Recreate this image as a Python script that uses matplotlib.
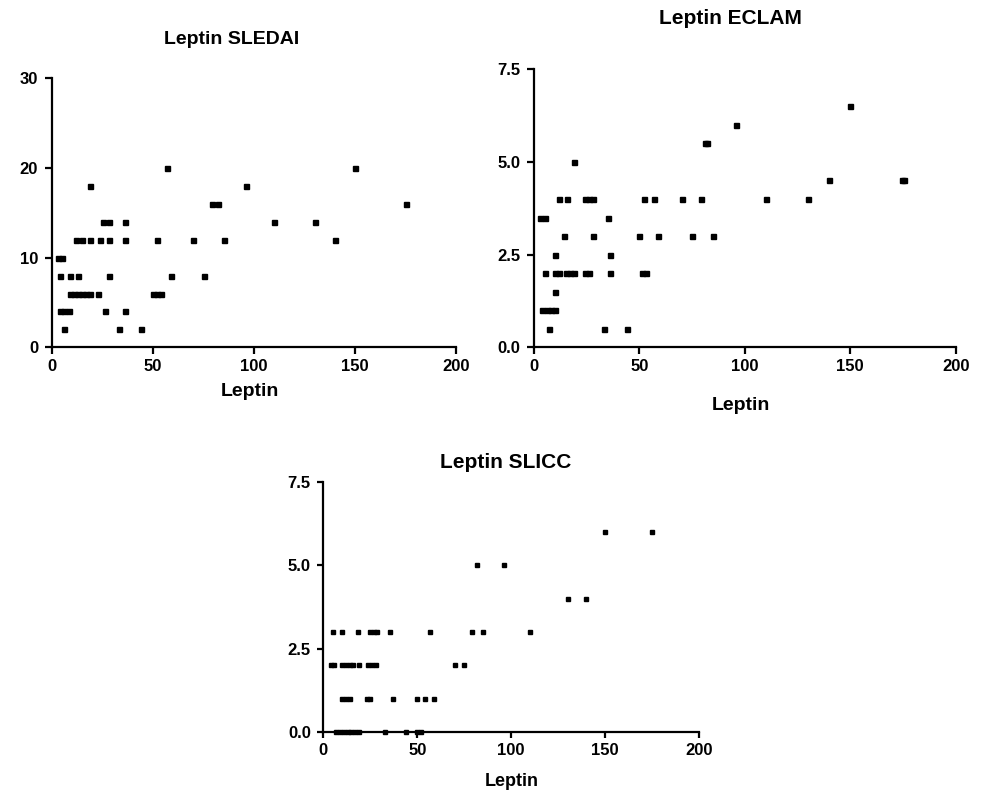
"""
Leptin vs SLEDAI / ECLAM / SLICC scatter panels
"""
import matplotlib.pyplot as plt

# SLEDAI panel
sledai_leptin = [6, 33, 44,
                 4, 6, 8.5, 26, 36,
                 9, 11, 13, 15, 17, 19, 23, 50, 52, 54,
                 4, 9, 13, 28, 59, 75,
                 3, 5,
                 12, 15, 19, 24, 28, 36, 52, 70, 85, 140,
                 25, 28, 36, 110, 130,
                 79, 82, 175,
                 19, 96,
                 57, 150]
sledai_score = [2, 2, 2,
                4, 4, 4, 4, 4,
                6, 6, 6, 6, 6, 6, 6, 6, 6, 6,
                8, 8, 8, 8, 8, 8,
                10, 10,
                12, 12, 12, 12, 12, 12, 12, 12, 12, 12,
                14, 14, 14, 14, 14,
                16, 16, 16,
                18, 18,
                20, 20]

# ECLAM panel
eclam_leptin = [7, 33, 44,
                4, 6, 8, 10,
                10,
                5, 10, 12, 15, 17, 19, 24, 26, 36, 51, 53,
                10, 36,
                14, 28, 50, 59, 75, 85,
                3, 5, 35,
                12, 15.5, 24, 26, 28, 52, 57, 70, 79, 110, 130,
                140, 174.5, 175.5,
                19,
                81, 82,
                96,
                150]
eclam_score = [0.5, 0.5, 0.5,
               1, 1, 1, 1,
               1.5,
               2, 2, 2, 2, 2, 2, 2, 2, 2, 2, 2,
               2.5, 2.5,
               3, 3, 3, 3, 3, 3,
               3.5, 3.5, 3.5,
               4, 4, 4, 4, 4, 4, 4, 4, 4, 4, 4,
               4.5, 4.5, 4.5,
               5,
               5.5, 5.5,
               6,
               6.5]

# SLICC panel
slicc_leptin = [7, 9, 11, 13, 15, 17, 19, 33, 44, 50, 52,
                10, 12, 14, 23, 25, 37, 50, 54, 59,
                4, 5.5, 10, 12, 14, 16, 19, 24, 26, 28, 70, 75,
                5, 10, 18.5, 25, 27, 28.5, 35.5, 57, 79, 85, 110,
                130, 140,
                82, 96,
                150, 175]
slicc_score = [0] * 11 + [1] * 9 + [2] * 12 + [3] * 11 + [4, 4, 5, 5, 6, 6]

plt.rcParams['font.family'] = ['Liberation Sans', 'DejaVu Sans']

fig = plt.figure(figsize=(9.86, 7.94), dpi=100)


def style_axes(ax, yticks, ylabels, ymax, ticklen):
    ax.set_xlim(0, 200)
    ax.set_ylim(0, ymax)
    ax.set_xticks([0, 50, 100, 150, 200])
    ax.set_yticks(yticks)
    ax.set_yticklabels(ylabels)
    for side in ['top', 'right']:
        ax.spines[side].set_visible(False)
    for side in ['left', 'bottom']:
        ax.spines[side].set_linewidth(1.6)
    ax.tick_params(direction='out', length=ticklen, width=1.6, labelsize=12)
    ax.tick_params(axis='x', pad=3.5)
    ax.tick_params(axis='y', pad=5)
    for lab in ax.get_xticklabels() + ax.get_yticklabels():
        lab.set_fontweight('bold')


def panel(rect, x, y, yticks, ylabels, ymax, ms, ticklen):
    ax = fig.add_axes(rect)
    ax.plot(x, y, 's', color='black', ms=ms, clip_on=False)
    style_axes(ax, yticks, ylabels, ymax, ticklen)
    return ax


W, H = 986.0, 794.0

panel([52 / W, 1 - 347.3 / H, 404 / W, 269 / H], sledai_leptin, sledai_score,
      [0, 10, 20, 30], ['0', '10', '20', '30'], 30, 3.6, 5)
panel([534 / W, 1 - 347.3 / H, 421.7 / W, 278 / H], eclam_leptin, eclam_score,
      [0, 2.5, 5, 7.5], ['0.0', '2.5', '5.0', '7.5'], 7.5, 3.6, 5)
panel([323.3 / W, 1 - 732.3 / H, 375.7 / W, 250.6 / H], slicc_leptin, slicc_score,
      [0, 2.5, 5, 7.5], ['0.0', '2.5', '5.0', '7.5'], 7.5, 3.3, 4)

# titles and axis labels placed like the original figure
fig.text(232 / W, 1 - 39 / H, 'Leptin SLEDAI', ha='center', va='center',
         fontsize=14, fontweight='bold')
fig.text(730 / W, 1 - 19 / H, 'Leptin ECLAM', ha='center', va='center',
         fontsize=15, fontweight='bold')
fig.text(506 / W, 1 - 462 / H, 'Leptin SLICC', ha='center', va='center',
         fontsize=15, fontweight='bold')
fig.text(250 / W, 1 - 391 / H, 'Leptin', ha='center', va='center',
         fontsize=14, fontweight='bold')
fig.text(741 / W, 1 - 405 / H, 'Leptin', ha='center', va='center',
         fontsize=14, fontweight='bold')
fig.text(512 / W, 1 - 781 / H, 'Leptin', ha='center', va='center',
         fontsize=13, fontweight='bold')

plt.savefig('out.png', dpi=100)
